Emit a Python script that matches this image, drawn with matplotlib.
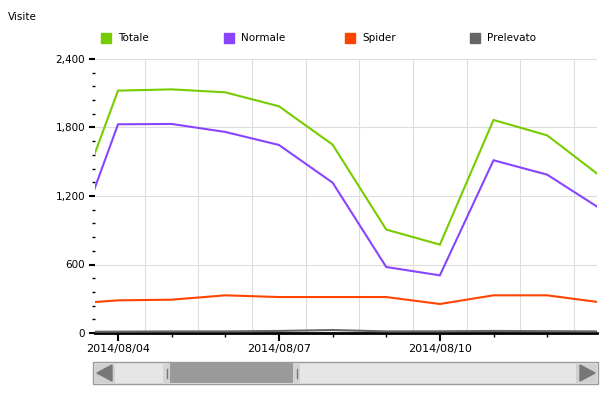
import matplotlib
matplotlib.use("Agg")
import matplotlib.pyplot as plt
import matplotlib.dates as mdates
import matplotlib.patches as mpatches
from matplotlib.ticker import MultipleLocator, FuncFormatter
import pandas as pd
import numpy as np

dates = ["2014-08-03", "2014-08-04", "2014-08-05", "2014-08-06", "2014-08-07", "2014-08-08",
         "2014-08-09", "2014-08-10", "2014-08-11", "2014-08-12", "2014-08-13"]
totale = [850, 2123, 2134, 2108, 1986, 1650, 906, 774, 1866, 1731, 1371]
normale = [540, 1828, 1831, 1761, 1647, 1317, 578, 505, 1513, 1387, 1086]
spider = [252, 286, 292, 330, 315, 315, 315, 254, 330, 330, 268]
prelevato = [10, 12, 14, 14, 18, 26, 14, 15, 18, 16, 14]

series_names = ["Totale", "Normale", "Spider", "Prelevato"]
series_colors = ["#77cc00", "#8844ff", "#ff4400", "#666666"]
y_ticks = [0, 600, 1200, 1800, 2400]
label_dates = ["2014-08-04", "2014-08-07", "2014-08-10"]

x = pd.to_datetime(dates)

fig = plt.figure(figsize=(6.10, 3.97), dpi=100)
ax = fig.add_axes([95/610, 1-333/397, (597-95)/610, (333-59)/397])

# half-day gridlines
for d in x:
    ax.axvline(d + pd.Timedelta(hours=12), color="#dddddd", lw=0.8, zorder=0)

ax.set_yticks(y_ticks)
ax.yaxis.set_minor_locator(MultipleLocator(120))
ax.yaxis.set_major_formatter(FuncFormatter(lambda v, p: f"{int(v):,}"))
ax.grid(axis="y", which="major", color="#dddddd", lw=0.8, zorder=0)

for vals, name, col in zip([totale, normale, spider, prelevato], series_names, series_colors):
    ax.plot(x, vals, color=col, lw=1.5, label=name, zorder=3, solid_joinstyle="miter")

ax.set_xlim(x[1] - pd.Timedelta(hours=10.3), x[9] + pd.Timedelta(hours=22.3))
ax.set_ylim(0, 2400)

ld = pd.to_datetime(label_dates)
ax.set_xticks(ld)
ax.set_xticklabels([d.strftime("%Y/%m/%d") for d in ld])
ax.xaxis.set_minor_locator(mdates.DayLocator())

for s in ["top", "right", "left"]:
    ax.spines[s].set_visible(False)
ax.spines["bottom"].set_color("black")
ax.spines["bottom"].set_linewidth(2)

ax.tick_params(axis="x", which="major", length=6, width=1.5, color="black", labelsize=8, pad=2)
ax.tick_params(axis="x", which="minor", length=3, width=1, color="black")
ax.tick_params(axis="y", which="major", length=4, width=1.5, color="black", labelsize=7.5, pad=3)
ax.tick_params(axis="y", which="minor", length=2, width=1, color="black")

# title
fig.text(8/610, 1-17/397, "Visite", fontsize=7.5, va="center", ha="left")

# legend
leg_x = [101, 224, 345, 470]
for lx, name, col in zip(leg_x, series_names, series_colors):
    fig.patches.append(mpatches.Rectangle((lx/610, 1-43/397), 10/610, 10/397,
                                          transform=fig.transFigure, color=col))
    fig.text((lx+17)/610, 1-38/397, name, fontsize=7.5, va="center", ha="left")

# scrollbar
def rect(x0, y0, x1, y1, fc, ec="none", lw=0):
    fig.patches.append(mpatches.Rectangle((x0/610, 1-y1/397), (x1-x0)/610, (y1-y0)/397,
                                          transform=fig.transFigure, facecolor=fc,
                                          edgecolor=ec, linewidth=lw))

rect(93, 362, 598, 384, "#e6e6e6", "#9a9a9a", 1)
rect(95, 364, 115, 383, "#d0d0d0")
rect(576, 364, 597, 383, "#d0d0d0")
rect(167, 363, 296, 383, "#9a9a9a")
rect(163, 363, 170, 383, "#d4d4d4")
rect(293, 363, 300, 383, "#d4d4d4")
fig.patches.append(mpatches.Polygon([(97/610, 1-373/397), (112/610, 1-365/397), (112/610, 1-381/397)],
                                    closed=True, transform=fig.transFigure, color="#777777"))
fig.patches.append(mpatches.Polygon([(595/610, 1-373/397), (580/610, 1-365/397), (580/610, 1-381/397)],
                                    closed=True, transform=fig.transFigure, color="#777777"))
for hx in [166.5, 296.5]:
    fig.lines.append(plt.Line2D([hx/610, hx/610], [1-369/397, 1-378/397],
                                transform=fig.transFigure, color="#777777", lw=1))

fig.savefig("out.png", dpi=100)
